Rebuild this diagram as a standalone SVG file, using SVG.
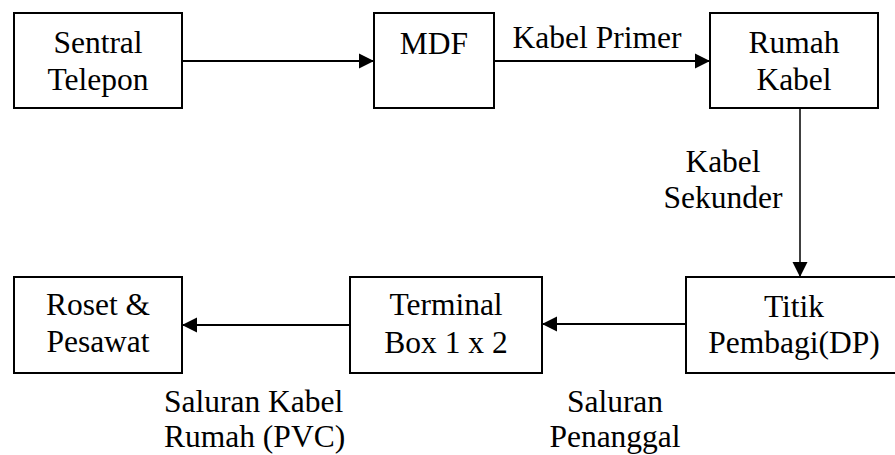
<svg xmlns="http://www.w3.org/2000/svg" width="895" height="455" viewBox="0 0 895 455">
<defs>
<style>
.box{fill:#fff;stroke:#000;stroke-width:2}
.t{font-family:'Liberation Serif','Times New Roman',Times,'DejaVu Serif',serif;font-size:31.5px;fill:#000;text-anchor:middle}
.ts{font-family:'Liberation Serif','Times New Roman',Times,'DejaVu Serif',serif;font-size:31.5px;fill:#000;text-anchor:start}
.c{stroke:#000;stroke-width:2;fill:none;marker-end:url(#ah)}
</style>
<marker id="ah" markerUnits="userSpaceOnUse" markerWidth="16" markerHeight="16" refX="15" refY="8" orient="auto" viewBox="0 0 16 16">
<path d="M0,0.5 L15,8 L0,15.5 Z" fill="#000"/>
</marker>
</defs>
<rect width="895" height="455" fill="#fff"/>
<g id="sentral">
<rect class="box" x="14" y="13" width="168" height="95"/>
<text class="t" x="98" y="53" font-family="Liberation Serif, serif">Sentral</text>
<text class="t" x="98" y="90" font-family="Liberation Serif, serif">Telepon</text>
</g>
<g id="mdf">
<rect class="box" x="374" y="13" width="120" height="95"/>
<text class="t" x="434" y="54">MDF</text>
</g>
<g id="rumah-kabel">
<rect class="box" x="710" y="13" width="168" height="95"/>
<text class="t" x="794" y="53">Rumah</text>
<text class="t" x="794" y="90">Kabel</text>
</g>
<g id="titik-pembagi">
<rect class="box" x="686" y="277" width="212" height="96"/>
<text class="t" x="794" y="317">Titik</text>
<text class="t" x="794" y="353">Pembagi(DP)</text>
</g>
<g id="terminal-box">
<rect class="box" x="350" y="277" width="192" height="96"/>
<text class="t" x="446" y="315">Terminal</text>
<text class="t" x="446" y="353">Box 1 x 2</text>
</g>
<g id="roset">
<rect class="box" x="14" y="277" width="168" height="96"/>
<text class="t" x="98" y="315">Roset &amp;</text>
<text class="t" x="98" y="352">Pesawat</text>
</g>
<g id="connectors">
<line class="c" x1="182" y1="61" x2="374" y2="61"/>
<line class="c" x1="494" y1="61" x2="710" y2="61"/>
<line class="c" x1="800" y1="108" x2="800" y2="277" style="stroke-width:1.5"/>
<line class="c" x1="686" y1="324" x2="542" y2="324"/>
<line class="c" x1="350" y1="325" x2="182" y2="325"/>
<text class="t" x="597" y="48">Kabel Primer</text>
<text class="t" x="723" y="172">Kabel</text>
<text class="t" x="723" y="208">Sekunder</text>
<text class="ts" x="164" y="412">Saluran Kabel</text>
<text class="ts" x="164" y="447">Rumah (PVC)</text>
<text class="t" x="615" y="412">Saluran</text>
<text class="t" x="615" y="447">Penanggal</text>
</g>
</svg>
